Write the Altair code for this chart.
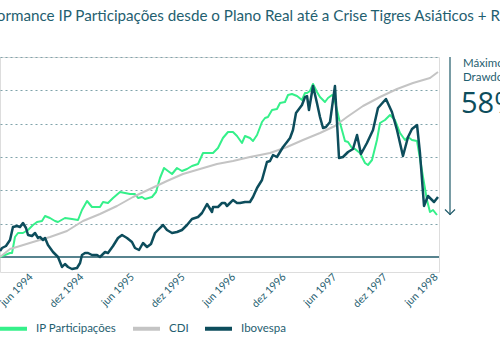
import altair as alt
import pandas as pd

# ---- data (decimal years, index values) ----
ibov_t = [1994.110, 1994.130, 1994.169, 1994.209, 1994.238, 1994.278, 1994.308, 1994.337, 1994.367, 1994.387,
          1994.426, 1994.456, 1994.486, 1994.505, 1994.535, 1994.555, 1994.584, 1994.634, 1994.683, 1994.723,
          1994.752, 1994.782, 1994.821, 1994.871, 1994.901, 1994.920, 1994.950, 1994.980, 1995.019, 1995.069,
          1995.098, 1995.148, 1995.177, 1995.227, 1995.276, 1995.316, 1995.365, 1995.414, 1995.444, 1995.484,
          1995.523, 1995.563, 1995.602, 1995.642, 1995.671, 1995.721, 1995.760, 1995.810, 1995.859, 1995.908,
          1995.958, 1996.007, 1996.067, 1996.106, 1996.156, 1996.205, 1996.215, 1996.264, 1996.304, 1996.333,
          1996.353, 1996.383, 1996.412, 1996.452, 1996.482, 1996.531, 1996.580, 1996.610, 1996.650, 1996.699,
          1996.748, 1996.778, 1996.808, 1996.847, 1996.877, 1996.907, 1996.946, 1996.976, 1997.005, 1997.035,
          1997.094, 1997.124, 1997.144, 1997.163, 1997.203, 1997.242, 1997.272, 1997.302, 1997.331, 1997.371,
          1997.420, 1997.460, 1997.499, 1997.549, 1997.598, 1997.638, 1997.677, 1997.736, 1997.796, 1997.845,
          1997.924, 1997.983, 1998.033, 1998.092, 1998.142, 1998.181, 1998.231, 1998.260, 1998.300, 1998.339,
          1998.399, 1998.438]
ibov_v = [109, 113.5, 116.5, 125.5, 145, 146.5, 145, 151, 143.5, 133,
          131.5, 136, 128.5, 130, 125.5, 128.5, 118, 107.5, 100, 85,
          89.5, 85, 82, 83.5, 91, 103, 106, 106, 103, 103,
          100, 107.5, 106, 116.5, 128.5, 133, 128.5, 122.5, 113.5, 110.5,
          121, 115, 119.5, 136, 140.5, 148, 140.5, 136, 137.5, 140.5,
          148, 157, 160, 166, 179.5, 167.5, 175, 175, 181, 181,
          176.5, 181, 185.5, 181, 181, 182.5, 182.5, 190, 203.5, 215.5,
          242.5, 244, 253, 250, 257.5, 265, 272.5, 278.5, 290.5, 316,
          328, 340, 341.5, 320.5, 356.5, 331, 310, 293.5, 295, 302.5,
          356.5, 248.5, 250, 257.5, 262, 283, 254.5, 271, 290.5, 323.5,
          337, 317.5, 290.5, 251.5, 280, 292, 298, 256, 176.5, 191.5,
          182.5, 190]

ip_t = [1994.110, 1994.209, 1994.229, 1994.258, 1994.288, 1994.337, 1994.387, 1994.436, 1994.476, 1994.525,
        1994.555, 1994.604, 1994.653, 1994.683, 1994.752, 1994.821, 1994.881, 1994.920, 1994.970, 1995.019,
        1995.098, 1995.128, 1995.177, 1995.227, 1995.296, 1995.345, 1995.395, 1995.444, 1995.474, 1995.513,
        1995.543, 1995.612, 1995.652, 1995.691, 1995.731, 1995.770, 1995.810, 1995.859, 1995.908, 1995.958,
        1996.007, 1996.067, 1996.116, 1996.165, 1996.215, 1996.264, 1996.313, 1996.363, 1996.412, 1996.452,
        1996.501, 1996.531, 1996.580, 1996.610, 1996.650, 1996.699, 1996.729, 1996.758, 1996.798, 1996.847,
        1996.877, 1996.926, 1996.956, 1996.995, 1997.045, 1997.094, 1997.124, 1997.144, 1997.173, 1997.203,
        1997.242, 1997.272, 1997.321, 1997.351, 1997.391, 1997.410, 1997.470, 1997.519, 1997.549, 1997.588,
        1997.618, 1997.667, 1997.717, 1997.746, 1997.786, 1997.835, 1997.865, 1997.914, 1997.964, 1998.013,
        1998.063, 1998.112, 1998.142, 1998.181, 1998.231, 1998.290, 1998.329, 1998.359, 1998.389, 1998.428]
ip_v = [100, 106, 106, 130, 136, 136, 140.5, 148, 152.5, 154,
        161.5, 158.5, 154, 152.5, 158.5, 157, 155.5, 170.5, 184, 175,
        175, 182.5, 181, 188.5, 197.5, 196, 194.5, 194.5, 188.5, 190,
        187, 190, 197.5, 218.5, 233.5, 229, 224.5, 233.5, 229, 232,
        236.5, 239.5, 256, 256, 256, 263.5, 278.5, 287.5, 287.5, 281.5,
        271, 281.5, 278.5, 274, 283, 302.5, 308.5, 310, 320.5, 322,
        331, 332.5, 343, 344.5, 341.5, 335.5, 346, 346, 349, 359.5,
        347.5, 340, 332.5, 338.5, 343, 340, 301, 274, 272.5, 263.5,
        262, 256, 241, 238, 245.5, 275.5, 301, 305.5, 313, 305.5,
        286, 275.5, 280, 275.5, 274, 220, 185.5, 167.5, 170.5, 163]

cdi_t = [1994.110, 1994.209, 1994.308, 1994.436, 1994.604, 1994.772, 1994.930, 1995.098, 1995.266, 1995.424,
         1995.592, 1995.760, 1995.918, 1996.086, 1996.254, 1996.412, 1996.580, 1996.778, 1996.946, 1997.104,
         1997.272, 1997.420, 1997.539, 1997.697, 1997.865, 1998.033, 1998.191, 1998.359, 1998.438]
cdi_v = [100, 112, 116.5, 122.5, 130, 139, 154, 164.5, 176.5, 190,
         202, 214, 224.5, 232, 239.5, 244, 250, 256, 265, 275.5,
         286, 296.5, 310, 326.5, 340, 352, 361, 368.5, 377.5]

series_names = ["IP Participações", "CDI", "Ibovespa"]
series_colors = ["#35F08A", "#C4C4C4", "#0D4D5C"]
grid_values = [150, 200, 250, 300, 350, 400]
tick_values = [1994.4167, 1994.9167, 1995.4167, 1995.9167, 1996.4167,
               1996.9167, 1997.4167, 1997.9167, 1998.4167]

title_text = "Performance IP Participações desde o Plano Real até a Crise Tigres Asiáticos + Rússia"
ann_lines = ["Máximo", "Drawdown"]
ann_value = "58%"

TEXT = "#1F6070"
FONT = "Lato"

df = pd.concat([
    pd.DataFrame({"t": ip_t, "v": ip_v, "s": series_names[0]}),
    pd.DataFrame({"t": cdi_t, "v": cdi_v, "s": series_names[1]}),
    pd.DataFrame({"t": ibov_t, "v": ibov_v, "s": series_names[2]}),
])

xscale = alt.Scale(domain=[1994.110, 1998.448], nice=False, zero=False)
yscale = alt.Scale(domain=[77.5, 400], nice=False, zero=False)
cscale = alt.Scale(domain=series_names, range=series_colors)

xaxis = alt.Axis(values=tick_values, labelAngle=-45, labelAlign="right", labelBaseline="middle",
                 labelExpr="(datum.value % 1 < 0.5 ? 'jun ' : 'dez ') + floor(datum.value)",
                 domain=False, ticks=False, grid=False, labelPadding=3,
                 labelFont=FONT, labelFontSize=10.5, labelColor=TEXT, title=None)
yaxis = alt.Axis(values=grid_values, grid=True, gridDash=[2, 3], gridColor="#7FA3AA",
                 gridWidth=1, domain=False, ticks=False, labels=False, title=None)

legend = alt.Legend(orient="none", legendX=-2, legendY=256, direction="horizontal",
                    symbolType="stroke", symbolSize=729, symbolStrokeWidth=4,
                    labelFont=FONT, labelFontSize=11.5, labelColor=TEXT, labelOffset=7,
                    columnPadding=8, title=None, padding=0)

X = alt.X("t:Q", scale=xscale, axis=xaxis)
Y = alt.Y("v:Q", scale=yscale, axis=yaxis)

base = alt.Chart(df)

baseline = alt.Chart(pd.DataFrame({"v": [100]})).mark_rule(color="#1F5A69", strokeWidth=1.5).encode(y=Y)


def series_layer(name, width):
    return base.transform_filter(alt.datum.s == name).mark_line(strokeWidth=width, strokeJoin="round").encode(
        x=X, y=Y,
        color=alt.Color("s:N", scale=cscale, legend=legend),
    )


one = alt.Chart(pd.DataFrame({"k": [0]}))
arrow = one.mark_rule(color="#1F5A69", strokeWidth=1.2).encode(
    x=alt.value(450), y=alt.value(0), y2=alt.value(158))
head = one.mark_point(shape="M-1,-0.5L0,0.5L1,-0.5", filled=False, color="#1F5A69",
                      strokeWidth=1.2, size=100, opacity=1).encode(x=alt.value(450), y=alt.value(155))
ann1 = one.mark_text(text=ann_lines[0], align="left", baseline="alphabetic", font=FONT,
                     fontSize=11.5, color=TEXT).encode(x=alt.value(463), y=alt.value(10))
ann2 = one.mark_text(text=ann_lines[1], align="left", baseline="alphabetic", font=FONT,
                     fontSize=11.5, color=TEXT).encode(x=alt.value(463), y=alt.value(24))
ann3 = one.mark_text(text=ann_value, align="left", baseline="alphabetic", font="Open Sans",
                     fontSize=29, color="#0D4D5C").encode(x=alt.value(461), y=alt.value(56))

chart = alt.layer(
    baseline,
    series_layer(series_names[0], 2),
    series_layer(series_names[1], 2),
    series_layer(series_names[2], 2.5),
    arrow, head, ann1, ann2, ann3,
).properties(
    width=439, height=215,
    title=alt.TitleParams(title_text, anchor="start", fontSize=15.2, font=FONT, fontWeight="normal",
                          color=TEXT, offset=32, dx=-28.5),
    autosize=alt.AutoSizeParams(type="none"),
    padding={"left": 0, "top": 57, "right": 61, "bottom": 78},
).configure_view(stroke=None).configure(background="white")

chart.save("out.html", embed_options={"renderer": "svg", "actions": False})
